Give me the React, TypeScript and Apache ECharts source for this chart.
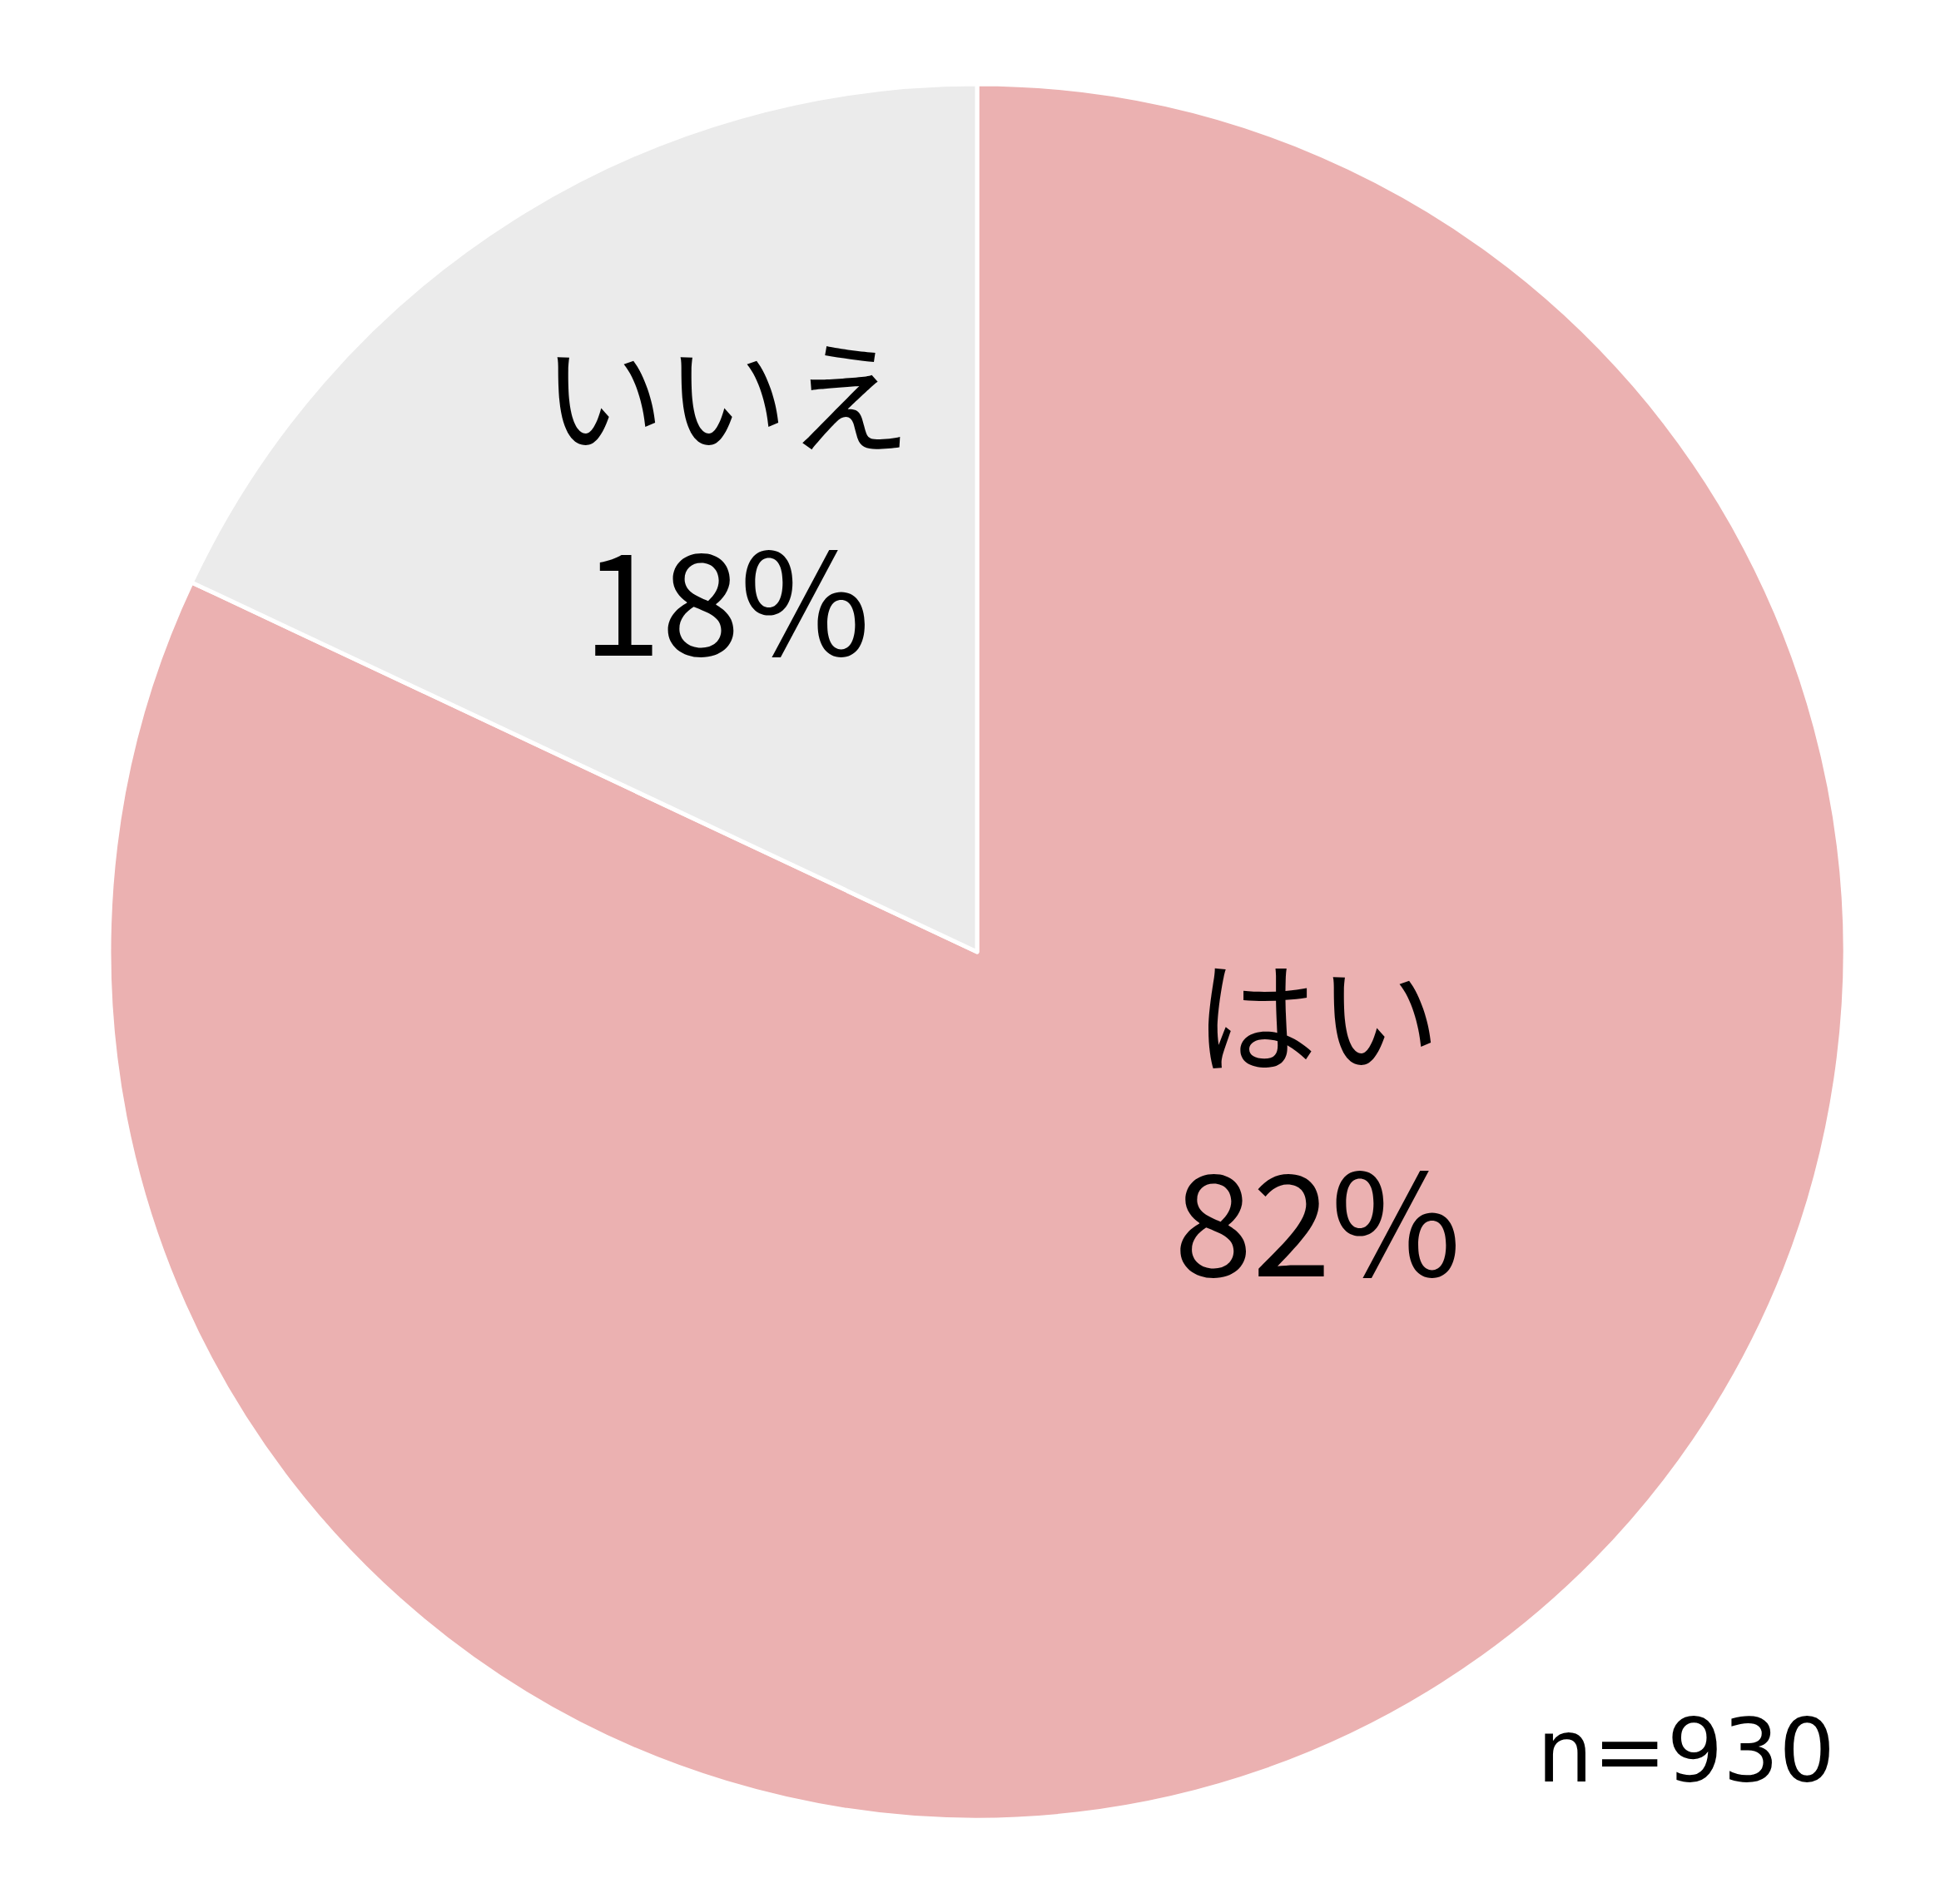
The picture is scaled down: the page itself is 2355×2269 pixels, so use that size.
import React, { useEffect, useRef } from "react";
import * as echarts from "echarts";

const categories = ["はい", "いいえ"];
const values = [82, 18];
const colors = ["#EBB1B1", "#EBEBEB"];
const sampleNote = "n=930";

const W = 2355;
const H = 2269;
const CX = 1174;
const CY = 1144;
const R = 1043;
// label offsets from the default "inside" position
const labelOffsets: [number, number][] = [
  [128, -250],
  [-20, -110],
];

export default function App() {
  const ref = useRef<HTMLDivElement>(null);
  useEffect(() => {
    document.body.style.margin = "0";
    const chart = echarts.init(ref.current!, null, { renderer: "svg", width: W, height: H });
    const font = "'Noto Sans CJK JP', 'Noto Sans', sans-serif";
    chart.setOption({
      animation: false,
      backgroundColor: "#ffffff",
      series: [
        {
          type: "pie",
          center: [CX, CY],
          radius: [0, R],
          startAngle: 90,
          clockwise: true,
          silent: true,
          itemStyle: { borderColor: "#ffffff", borderWidth: 5 },
          labelLine: { show: false },
          label: {
            show: true,
            position: "inside",
            formatter: (p: any) => `{n|${p.name}}\n{v|${p.value}%}`,
            rich: {
              n: { fontSize: 148, fontFamily: font, color: "#000", lineHeight: 246, align: "center" },
              v: { fontSize: 170, fontFamily: font, color: "#000", lineHeight: 246, align: "center" },
            },
          },
          data: categories.map((c, i) => ({
            name: c,
            value: values[i],
            itemStyle: { color: colors[i] },
            label: { offset: labelOffsets[i] },
          })),
        },
      ],
      graphic: [
        {
          type: "text",
          right: W - 2205,
          top: 2051,
          style: {
            text: sampleNote,
            fontSize: 106,
            fontFamily: "'DejaVu Sans', sans-serif",
            fill: "#000",
          },
        },
      ],
    });
    return () => chart.dispose();
  }, []);
  return <div ref={ref} style={{ width: W, height: H }} />;
}
